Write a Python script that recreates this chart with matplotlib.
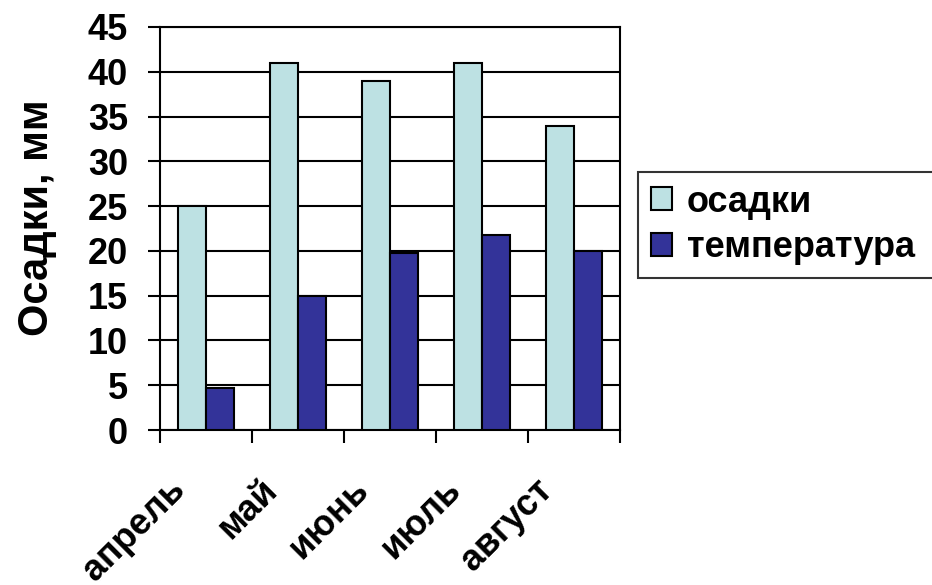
import matplotlib.pyplot as plt
import numpy as np

plt.rcParams['font.family'] = ['Liberation Sans', 'DejaVu Sans']
plt.rcParams['font.weight'] = 'bold'

# данные
months = ['апрель', 'май', 'июнь', 'июль', 'август']
osadki = [25, 41, 39, 41, 34]
temperatura = [4.7, 15, 19.8, 21.8, 20]

col_os = '#BDE1E3'
col_temp = '#333399'

fig = plt.figure(figsize=(9.32, 5.85), dpi=100)
ax = fig.add_axes([160/932, 1 - 430/585, 460/932, 403/585])

x = np.arange(len(months))
w = 0.3
ax.bar(x - w/2, osadki, w, color=col_os, edgecolor='black', linewidth=1.5, label='осадки', zorder=3)
ax.bar(x + w/2, temperatura, w, color=col_temp, edgecolor='black', linewidth=1.5, label='температура', zorder=3)

ax.set_xlim(-0.5, 4.5)
ax.set_ylim(0, 45)
ax.set_yticks(range(0, 46, 5))
ax.yaxis.grid(True, color='black', linewidth=1.5, zorder=0)
ax.set_axisbelow(True)

for s in ax.spines.values():
    s.set_linewidth(1.5)
    s.set_color('black')

ax.tick_params(axis='y', labelsize=26, length=9, width=1.5, pad=14)
ax.set_xticks(np.arange(-0.5, 4.6, 1))
ax.set_xticklabels([])
ax.tick_params(axis='x', length=9, width=1.5)

# подписи месяцев
for i, m in enumerate(months):
    ax.text(i - 0.42, -0.105, m, transform=ax.get_xaxis_transform(), rotation=45,
            rotation_mode='anchor', ha='right', va='top', fontsize=26, fontweight='bold')

ax.set_ylabel('Осадки, мм', fontsize=30, fontweight='bold', labelpad=22)
ax.yaxis.label.set_y(0.526)

# легенда выходит за правый край, как в оригинале
leg = fig.legend(loc='upper left', bbox_to_anchor=(638/932, 1 - 172/585, 0.35, 0.0),
                 mode='expand', fontsize=26,
                 frameon=True, fancybox=False, edgecolor='black', borderaxespad=0,
                 handlelength=0.6, handleheight=0.6, handletextpad=0.4, borderpad=0.35,
                 labelspacing=0.3)
leg.get_frame().set_linewidth(1.5)

fig.savefig('out.png', dpi=100)
